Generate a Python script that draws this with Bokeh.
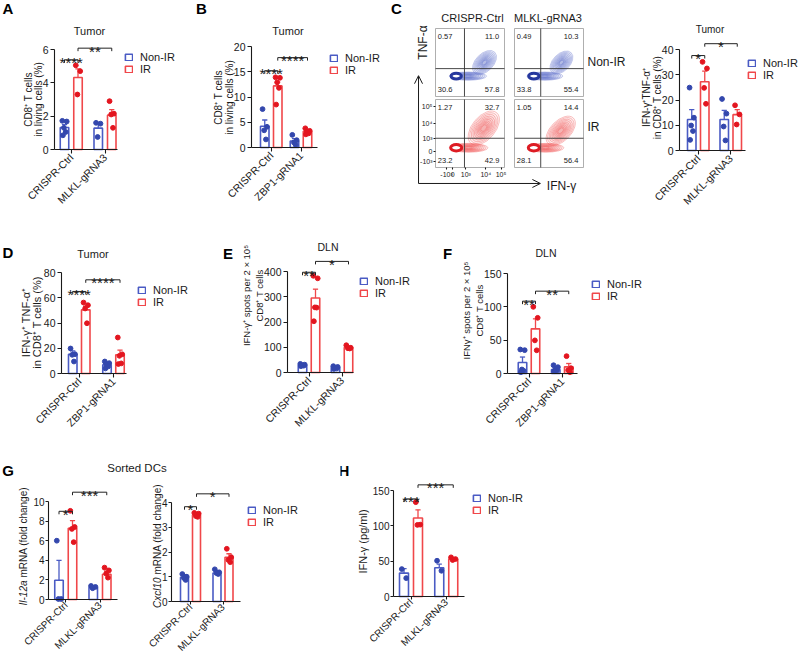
import math
from bokeh.plotting import figure
from bokeh.models import Range1d, Label, Legend, LegendItem, FixedTicker, Arrow, OpenHead
from bokeh.layouts import row, column
from bokeh.embed import file_html
from bokeh.resources import INLINE

FONT = "Liberation Sans"
INK = "#1a1a1a"
BLUE_LINE = "#4a5bc4"
BLUE_DOT = "#3347ad"
RED_LINE = "#f0474a"
RED_DOT = "#e3151f"

SERIES = ["Non-IR", "IR"]

# ---------------- data ----------------
A_CATS = ["CRISPR-Ctrl", "MLKL-gRNA3"]
A_NONIR_MEAN = [1.32, 1.28]
A_NONIR_SEM = [0.17, 0.27]
A_NONIR_PTS = [[1.72, 1.68, 1.30, 1.05, 0.85], [1.60, 1.55, 0.75]]
A_IR_MEAN = [4.32, 2.06]
A_IR_SEM = [0.52, 0.33]
A_IR_PTS = [[5.05, 4.70, 3.30], [2.90, 2.15, 2.10, 1.30]]
A_YTICKS = [0, 2, 4, 6]
A_SIG_Y = [5.38, 6.08]
A_SIG_TXT = ["****", "**"]

B_CATS = ["CRISPR-Ctrl", "ZBP1-gRNA1"]
B_NONIR_MEAN = [4.2, 1.3]
B_NONIR_SEM = [1.25, 0.45]
B_NONIR_PTS = [[7.6, 4.1, 3.4, 1.6], [2.5, 1.45, 1.0, 0.5]]
B_IR_MEAN = [12.2, 3.2]
B_IR_SEM = [0.75, 0.3]
B_IR_PTS = [[13.9, 13.8, 12.9, 11.8, 8.5], [3.8, 3.3, 3.1, 2.8, 2.6]]
B_YTICKS = [0, 5, 10, 15, 20]
B_SIG_Y = [15.2, 17.8]
B_SIG_TXT = ["****", "****"]

C_CATS = ["CRISPR-Ctrl", "MLKL-gRNA3"]
C_NONIR_MEAN = [12.3, 12.3]
C_NONIR_SEM = [3.9, 3.6]
C_NONIR_PTS = [[24.9, 13.0, 9.9, 7.7, 4.2], [20.4, 14.6, 9.5, 4.0]]
C_IR_MEAN = [27.2, 14.2]
C_IR_SEM = [4.2, 2.0]
C_IR_PTS = [[35.1, 32.5, 24.8, 18.5], [17.9, 14.3, 10.3]]
C_YTICKS = [0, 10, 20, 30, 40]
C_SIG_Y = [37.6, 42.3]
C_SIG_TXT = ["*", "*"]

D_CATS = ["CRISPR-Ctrl", "ZBP1-gRNA1"]
D_NONIR_MEAN = [15.3, 6.9]
D_NONIR_SEM = [2.6, 1.8]
D_NONIR_PTS = [[19.8, 15.3, 14.8, 9.5], [9.5, 8.2, 6.8, 5.6, 4.0]]
D_IR_MEAN = [50.4, 14.8]
D_IR_SEM = [3.0, 3.7]
D_IR_PTS = [[56.2, 54.1, 51.5, 39.8], [28.5, 15.2, 14.0, 8.0, 7.5]]
D_YTICKS = [0, 20, 40, 60, 80]
D_SIG_Y = [65.0, 74.2]
D_SIG_TXT = ["****", "****"]

E_CATS = ["CRISPR-Ctrl", "MLKL-gRNA3"]
E_NONIR_MEAN = [30, 20]
E_NONIR_SEM = [3, 3]
E_NONIR_PTS = [[34, 31, 29, 27, 25], [25, 22, 19, 16, 14]]
E_IR_MEAN = [295, 99]
E_IR_SEM = [35, 4]
E_IR_PTS = [[383, 373, 258, 257, 203], [108, 98, 96, 95]]
E_YTICKS = [0, 100, 200, 300, 400]
E_SIG_Y = [397, 440]
E_SIG_TXT = ["**", "*"]

F_CATS = ["CRISPR-Ctrl", "ZBP1-gRNA1"]
F_NONIR_MEAN = [16.4, 6.0]
F_NONIR_SEM = [8.3, 3.5]
F_NONIR_PTS = [[36, 35, 6, 4, 2], [12.4, 9.5, 5.5, 4.5, 3.5]]
F_IR_MEAN = [67, 10]
F_IR_SEM = [15, 5]
F_IR_PTS = [[100, 83.5, 49.7, 34.8], [26, 8, 5, 2]]
F_YTICKS = [0, 50, 100, 150]
F_SIG_Y = [108.5, 123.5]
F_SIG_TXT = ["**", "**"]

G1_CATS = ["CRISPR-Ctrl", "MLKL-gRNA3"]
G1_NONIR_MEAN = [1.96, 1.22]
G1_NONIR_SEM = [2.04, 0.16]
G1_NONIR_PTS = [[6.0, 0.05, 0.05], [1.38, 1.28, 1.15]]
G1_IR_MEAN = [7.26, 2.57]
G1_IR_SEM = [0.78, 0.33]
G1_IR_PTS = [[9.05, 7.4, 7.2, 5.85], [3.25, 2.97, 2.64, 2.23]]
G1_YTICKS = [0, 2, 4, 6, 8, 10]
G1_SIG_Y = [9.0, 10.95]
G1_SIG_TXT = ["*", "***"]

G2_CATS = ["CRISPR-Ctrl", "MLKL-gRNA3"]
G2_NONIR_MEAN = [0.98, 1.15]
G2_NONIR_SEM = [0.10, 0.10]
G2_NONIR_PTS = [[1.11, 1.0, 0.95, 0.87], [1.3, 1.18, 1.15, 1.11]]
G2_IR_MEAN = [3.49, 1.79]
G2_IR_SEM = [0.07, 0.14]
G2_IR_PTS = [[3.58, 3.55, 3.45, 3.42], [2.13, 1.79, 1.68, 1.59]]
G2_YTICKS = [0, 1, 2, 3, 4]
G2_SIG_Y = [3.83, 4.35]
G2_SIG_TXT = ["*", "*"]

H_CATS = ["CRISPR-Ctrl", "MLKL-gRNA3"]
H_NONIR_MEAN = [33.1, 40.7]
H_NONIR_SEM = [6.4, 5.2]
H_NONIR_PTS = [[38.8, 26.0], [50.6, 36.4]]
H_IR_MEAN = [111, 53]
H_IR_SEM = [11.6, 1.2]
H_IR_PTS = [[133.5, 101.7, 101.3], [55.4, 53.0, 51.6]]
H_YTICKS = [0, 50, 100, 150]
H_SIG_Y = [138, 158]
H_SIG_TXT = ["***", "***"]

# flow cytometry panel C
FLOW_COLS = ["CRISPR-Ctrl", "MLKL-gRNA3"]
FLOW_ROWS = ["Non-IR", "IR"]
FLOW_PCT = [  # [row][col] -> UL, UR, LL, LR
    [["0.57", "11.0", "30.6", "57.8"], ["0.49", "10.3", "33.8", "55.4"]],
    [["1.27", "32.7", "23.2", "42.9"], ["1.05", "14.4", "28.1", "56.4"]],
]
FLOW_GATE_X = [0.42, 0.38]
FLOW_GATE_Y = [0.41, 0.43]
# blobs: (cx, cy, w, h, angle_deg) -> lobe, band, core
FLOW_BLOBS = [
    [[(0.71, 0.50, 0.42, 0.26, 45), (0.47, 0.30, 0.54, 0.12, 0), (0.30, 0.30, 0.15, 0.085, 0)],
     [(0.68, 0.50, 0.40, 0.25, 45), (0.44, 0.30, 0.52, 0.12, 0), (0.28, 0.30, 0.15, 0.085, 0)]],
    [[(0.70, 0.58, 0.58, 0.34, 50), (0.48, 0.29, 0.56, 0.13, 0), (0.30, 0.29, 0.16, 0.095, 0)],
     [(0.67, 0.54, 0.52, 0.30, 45), (0.45, 0.29, 0.53, 0.13, 0), (0.28, 0.29, 0.16, 0.095, 0)]],
]
FLOW_TICKS_X = [0.16, 0.25, 0.44, 0.73, 0.95]
FLOW_TICKS_Y = [0.09, 0.235, 0.43, 0.64, 0.89]
FLOW_TICK_LABELS = ["-10³", "0", "10³", "10⁴", "10⁵"]

RING_SCALES = [1.0, 0.9, 0.8, 0.7, 0.6, 0.51, 0.42, 0.34, 0.26, 0.19]
JITTER_PX = [-2.2, 2.2, -0.6, 1.2, -1.6]


def mk_fig(fig_box, xr, yr, transparent=False):
    fx0, fy0, fx1, fy1 = fig_box
    p = figure(width=fx1 - fx0, height=fy1 - fy0, x_range=xr, y_range=yr,
               output_backend="svg", toolbar_location=None,
               min_border_left=0, min_border_right=0,
               min_border_top=0, min_border_bottom=0)
    p.outline_line_color = None
    p.xgrid.visible = False
    p.ygrid.visible = False
    if transparent:
        p.background_fill_alpha = 0
        p.border_fill_alpha = 0
    return p


def plabel(p, fig_box, px, py, text, size, align="center", baseline="middle",
           angle=0.0, style="normal", color=INK):
    fx0, fy0, fx1, fy1 = fig_box
    p.add_layout(Label(x=px - fx0, y=fy1 - py, x_units="screen", y_units="screen",
                       text=text, text_font=FONT, text_font_size=f"{size}px",
                       text_font_style=style, text_align=align,
                       text_baseline=baseline, angle=angle, text_color=color))


def style_axis(ax, fs, tick_out, standoff, line=True):
    ax.axis_line_color = INK if line else None
    ax.axis_line_width = 1.1
    ax.major_tick_line_color = INK
    ax.major_tick_line_width = 1.1
    ax.major_tick_in = 0
    ax.major_tick_out = tick_out
    ax.minor_tick_line_color = None
    ax.major_label_text_font = FONT
    ax.major_label_text_font_size = f"{fs}px"
    ax.major_label_text_color = INK
    ax.major_label_standoff = standoff


def bar_panel(g, cats, nm, ns, npts, im, isem, ipts, yticks, sig_y, sig_txt):
    fb = g["fig"]
    fx0, fy0, fx1, fy1 = fb
    L, R, B = g["axes"]
    c0, c1 = g["cats_px"]
    ppu = c1 - c0
    s = (B - g["ytop_px"]) / yticks[-1]
    xr = Range1d((fx0 - c0) / ppu, (fx1 - c0) / ppu)
    yr = Range1d((B - fy1) / s, (B - fy0) / s)
    p = mk_fig(fb, xr, yr, g.get("transparent", False))
    dx = g.get("dx", 6.5) / ppu
    bw = g.get("bw", 8.5) / ppu
    bars = []
    for means, sems, pts, off, lc, dc in [(nm, ns, npts, -dx, BLUE_LINE, BLUE_DOT),
                                           (im, isem, ipts, dx, RED_LINE, RED_DOT)]:
        xs = [i + off for i in range(len(cats))]
        r = p.vbar(x=xs, top=means, width=bw, bottom=0, fill_color="white",
                   line_color=lc, line_width=1.6)
        bars.append(r)
        tops = [m + e for m, e in zip(means, sems)]
        cw = 2.6 / ppu
        p.segment(x0=xs, y0=means, x1=xs, y1=tops, line_color=lc, line_width=1.3)
        p.segment(x0=[x - cw for x in xs], y0=tops, x1=[x + cw for x in xs], y1=tops,
                  line_color=lc, line_width=1.3)
        px_, py_ = [], []
        for i, grp in enumerate(pts):
            for k, v in enumerate(grp):
                px_.append(xs[i] + JITTER_PX[k % len(JITTER_PX)] / ppu)
                py_.append(v)
        p.scatter(px_, py_, size=4.8, color=dc, line_color=dc)

    # significance brackets
    tk = 3.0 / s
    pairs = [(-dx, dx), (dx, 1 + dx)]
    for (x1, x2), yv, txt in zip(pairs, sig_y, sig_txt):
        p.multi_line(xs=[[x1, x1, x2, x2]], ys=[[yv - tk, yv, yv, yv - tk]],
                     line_color="#222222", line_width=1.0)
        p.add_layout(Label(x=(x1 + x2) / 2, y=yv, text=txt, text_align="center",
                           text_baseline="alphabetic", y_offset=-3,
                           text_font=FONT, text_font_size="15px", text_color=INK))

    # axes at fixed locations inside the frame
    tfs = g.get("tick_fs", 10.5)
    xa, ya = p.xaxis[0], p.yaxis[0]
    xa.ticker = FixedTicker(ticks=list(range(len(cats))))
    xa.major_label_overrides = {i: c for i, c in enumerate(cats)}
    xa.major_label_orientation = math.pi / 4
    xa.fixed_location = 0
    xa.bounds = ((L - c0) / ppu, (R - c0) / ppu)
    ya.ticker = FixedTicker(ticks=yticks)
    ya.bounds = (0, yticks[-1])
    ya.fixed_location = (L - c0) / ppu
    for ax in (xa, ya):
        style_axis(ax, tfs, g.get("tick_out", 4), g.get("standoff", 2))

    # legend
    if g.get("legend"):
        gx, gy = g["legend"]
        top = gy - 2.3
        leg = Legend(items=[LegendItem(label=SERIES[0], renderers=[bars[0]]),
                            LegendItem(label=SERIES[1], renderers=[bars[1]])],
                     location=(gx - fx0, fy1 - (top + 25.4)),
                     glyph_width=9, glyph_height=8, label_standoff=7,
                     label_text_font=FONT, label_text_font_size="11px",
                     label_text_color=INK, label_height=11, spacing=0,
                     padding=0, margin=0, border_line_alpha=0,
                     background_fill_alpha=0)
        p.add_layout(leg)

    if g.get("title"):
        t, tx, ty, tfs2 = g["title"]
        plabel(p, fb, tx, ty, t, tfs2)
    if g.get("letter"):
        t, lx, ly = g["letter"]
        plabel(p, fb, lx, ly, t, 15, style="bold", color="#000000")
    if g.get("ylabels"):
        lines, yc, fs = g["ylabels"]
        for txt, lx in lines:
            plabel(p, fb, lx, yc, txt, fs, angle=math.pi / 2)
    if g.get("ylab_italic"):
        it, rest, lx, ysplit, fs = g["ylab_italic"]
        plabel(p, fb, lx, ysplit, it, fs, align="right", angle=math.pi / 2, style="italic")
        plabel(p, fb, lx, ysplit - 3, rest, fs, align="left", angle=math.pi / 2)
    if g.get("margin"):
        p.margin = g["margin"]
    return p


def flow_panel():
    fb = (383, 0, 628, 213)
    fx0, fy0, fx1, fy1 = fb
    L0, B0 = 435.0, 167.0       # left / bottom edge of the lower-left plot
    PX, PY = 69.0, 68.0
    p = mk_fig(fb, Range1d((fx0 - L0) / PX, (fx1 - L0) / PX),
               Range1d((B0 - fy1) / PY, (B0 - fy0) / PY))
    col_off = [0.0, 79.0 / PX]
    row_off = [71.0 / PY, 0.0]
    colors = [("#5566c8", "#26389e"), ("#f05050", "#dd1c24")]
    for r in range(2):
        line_c, core_c = colors[r]
        for c in range(2):
            ox, oy = col_off[c], row_off[r]
            p.quad(left=[ox], right=[ox + 1], bottom=[oy], top=[oy + 1],
                   fill_color=None, line_color="#9a9a9a", line_width=0.8)
            blobs = FLOW_BLOBS[r][c]
            n = len(RING_SCALES)
            for (cx, cy, w, h, ang) in blobs[:2]:
                p.ellipse(x=[ox + cx] * n, y=[oy + cy] * n,
                          width=[w * k for k in RING_SCALES], height=[h * k for k in RING_SCALES],
                          angle=ang, angle_units="deg", fill_color=line_c, fill_alpha=0.05,
                          line_color=line_c, line_alpha=0.5, line_width=0.7)
            cx, cy, w, h, ang = blobs[2]
            p.ellipse(x=[ox + cx], y=[oy + cy], width=[w], height=[h], angle=ang,
                      angle_units="deg", fill_color="white", line_color=core_c, line_width=3)
            gx, gy = FLOW_GATE_X[c], FLOW_GATE_Y[r]
            p.segment(x0=[ox + gx, ox], y0=[oy, oy + gy], x1=[ox + gx, ox + 1], y1=[oy + 1, oy + gy],
                      line_color="#333333", line_width=0.9)
            pos = [(0.14, 0.88), (0.82, 0.88), (0.14, 0.10), (0.82, 0.10)]
            for (qx, qy), txt in zip(pos, FLOW_PCT[r][c]):
                p.add_layout(Label(x=ox + qx, y=oy + qy, text=txt, text_align="center",
                                   text_baseline="middle", text_font=FONT,
                                   text_font_size="7.5px", text_color=INK))
    xa, ya = p.xaxis[0], p.yaxis[0]
    xa.ticker = FixedTicker(ticks=FLOW_TICKS_X)
    xa.major_label_overrides = dict(zip(FLOW_TICKS_X, FLOW_TICK_LABELS))
    xa.bounds = (0, 1)
    xa.fixed_location = 0
    ya.ticker = FixedTicker(ticks=FLOW_TICKS_Y)
    ya.major_label_overrides = dict(zip(FLOW_TICKS_Y, FLOW_TICK_LABELS))
    ya.bounds = (0, 1)
    ya.fixed_location = 0
    for ax in (xa, ya):
        style_axis(ax, 7, 2, 1, line=False)
    # axis arrows
    head = dict(size=8, line_width=1, line_color=INK)
    p.add_layout(Arrow(x_start=-0.246, y_start=-0.235, x_end=-0.246, y_end=1.35,
                       end=OpenHead(**head), line_color=INK, line_width=1))
    p.add_layout(Arrow(x_start=-0.246, y_start=-0.235, x_end=1.52, y_end=-0.235,
                       end=OpenHead(**head), line_color=INK, line_width=1))
    plabel(p, fb, 422, 42, "TNF-α", 12, angle=math.pi / 2)
    plabel(p, fb, 561, 185, "IFN-γ", 12)
    plabel(p, fb, 472, 17, FLOW_COLS[0], 11)
    plabel(p, fb, 547.5, 17, FLOW_COLS[1], 11)
    plabel(p, fb, 587, 61, FLOW_ROWS[0], 12, align="left")
    plabel(p, fb, 587, 126, FLOW_ROWS[1], 12, align="left")
    plabel(p, fb, 396, 8, "C", 15, style="bold", color="#000000")
    return p


pA = bar_panel(dict(fig=(0, 0, 190, 213), axes=(54, 117, 149), ytop_px=49,
                    cats_px=(70.75, 104.5), dx=6.75, legend=(124, 52),
                    title=("Tumor", 89, 30, 11), letter=("A", 7.5, 8),
                    ylabels=([("CD8⁺ T cells", 28), ("in living cells (%)", 38)], 99, 10)),
               A_CATS, A_NONIR_MEAN, A_NONIR_SEM, A_NONIR_PTS, A_IR_MEAN, A_IR_SEM, A_IR_PTS,
               A_YTICKS, A_SIG_Y, A_SIG_TXT)

pB = bar_panel(dict(fig=(190, 0, 383, 213), axes=(251, 317, 147), ytop_px=46,
                    cats_px=(270.75, 300.5), legend=(329, 53),
                    title=("Tumor", 287.5, 30.5, 11), letter=("B", 201, 8),
                    ylabels=([("CD8⁺ T cells", 218), ("in living cells (%)", 229)], 97, 10)),
               B_CATS, B_NONIR_MEAN, B_NONIR_SEM, B_NONIR_PTS, B_IR_MEAN, B_IR_SEM, B_IR_PTS,
               B_YTICKS, B_SIG_Y, B_SIG_TXT)

pCf = flow_panel()

pC = bar_panel(dict(fig=(628, 0, 800, 213), axes=(679, 745, 150), ytop_px=49,
                    cats_px=(697.75, 730.25), legend=(747, 58),
                    title=("Tumor", 709.5, 28.5, 10),
                    ylabels=([("IFN-γ⁺TNF-α⁺", 646), ("in CD8⁺ T cells (%)", 657)], 97, 10)),
               C_CATS, C_NONIR_MEAN, C_NONIR_SEM, C_NONIR_PTS, C_IR_MEAN, C_IR_SEM, C_IR_PTS,
               C_YTICKS, C_SIG_Y, C_SIG_TXT)

pD = bar_panel(dict(fig=(0, 213, 205, 436), axes=(61, 126, 373), ytop_px=272,
                    cats_px=(78.75, 113), legend=(137, 285),
                    title=("Tumor", 92.5, 253, 11), letter=("D", 7.5, 252),
                    ylabels=([("IFN-γ⁺ TNF-α⁺", 25), ("in CD8⁺ T cells (%)", 36)], 322, 11)),
               D_CATS, D_NONIR_MEAN, D_NONIR_SEM, D_NONIR_PTS, D_IR_MEAN, D_IR_SEM, D_IR_PTS,
               D_YTICKS, D_SIG_Y, D_SIG_TXT)

pE = bar_panel(dict(fig=(205, 213, 440, 436), axes=(287, 353, 372), ytop_px=271,
                    cats_px=(308.5, 341.5), legend=(359, 276),
                    title=("DLN", 327.5, 246.5, 10.5), letter=("E", 227.5, 253),
                    ylabels=([("IFN-γ⁺ spots per 2 × 10⁵", 246), ("CD8⁺ T cells", 259)], 295, 9.5)),
               E_CATS, E_NONIR_MEAN, E_NONIR_SEM, E_NONIR_PTS, E_IR_MEAN, E_IR_SEM, E_IR_PTS,
               E_YTICKS, E_SIG_Y, E_SIG_TXT)

pF = bar_panel(dict(fig=(440, 213, 800, 436), axes=(507, 577, 373), ytop_px=273,
                    cats_px=(528.5, 561.75), legend=(591, 279),
                    title=("DLN", 545.5, 252.5, 10.5), letter=("F", 447, 253),
                    ylabels=([("IFNγ⁺ spots per 2 × 10⁵", 466), ("CD8⁺ T cells", 479)], 310, 9.5)),
               F_CATS, F_NONIR_MEAN, F_NONIR_SEM, F_NONIR_PTS, F_IR_MEAN, F_IR_SEM, F_IR_PTS,
               F_YTICKS, F_SIG_Y, F_SIG_TXT)

pG1 = bar_panel(dict(fig=(0, 436, 170, 661), axes=(48, 117, 599), ytop_px=501,
                     cats_px=(65.25, 99.5), dx=6.75, tick_fs=10, standoff=1, tick_out=3,
                     title=("Sorted DCs", 136.5, 467, 11.5), letter=("G", 7.5, 470),
                     ylab_italic=("Il-12a", "mRNA (fold change)", 23, 580, 10)),
                G1_CATS, G1_NONIR_MEAN, G1_NONIR_SEM, G1_NONIR_PTS, G1_IR_MEAN, G1_IR_SEM, G1_IR_PTS,
                G1_YTICKS, G1_SIG_Y, G1_SIG_TXT)

pG2 = bar_panel(dict(fig=(145, 436, 340, 661), axes=(171, 240, 601), ytop_px=502,
                     cats_px=(190, 222.5), dx=6, bw=8, tick_fs=10, standoff=1, tick_out=3,
                     legend=(247, 505), transparent=True, margin=(0, 0, 0, -25),
                     ylab_italic=("Cxcl10", "mRNA (fold change)", 157, 577, 10)),
                G2_CATS, G2_NONIR_MEAN, G2_NONIR_SEM, G2_NONIR_PTS, G2_IR_MEAN, G2_IR_SEM, G2_IR_PTS,
                G2_YTICKS, G2_SIG_Y, G2_SIG_TXT)

pH = bar_panel(dict(fig=(340, 436, 800, 661), axes=(393, 464, 596), ytop_px=490,
                    cats_px=(410.5, 445.75), dx=7, bw=9, tick_fs=10, standoff=1, tick_out=3,
                    legend=(472, 493), letter=("H", 343.5, 470),
                    ylabels=([("IFN-γ (pg/ml)", 362)], 541, 11)),
               H_CATS, H_NONIR_MEAN, H_NONIR_SEM, H_NONIR_PTS, H_IR_MEAN, H_IR_SEM, H_IR_PTS,
               H_YTICKS, H_SIG_Y, H_SIG_TXT)

layout = column(row(pA, pB, pCf, pC), row(pD, pE, pF), row(pG1, pG2, pH))

with open("out.html", "w") as f:
    f.write(file_html(layout, INLINE))
